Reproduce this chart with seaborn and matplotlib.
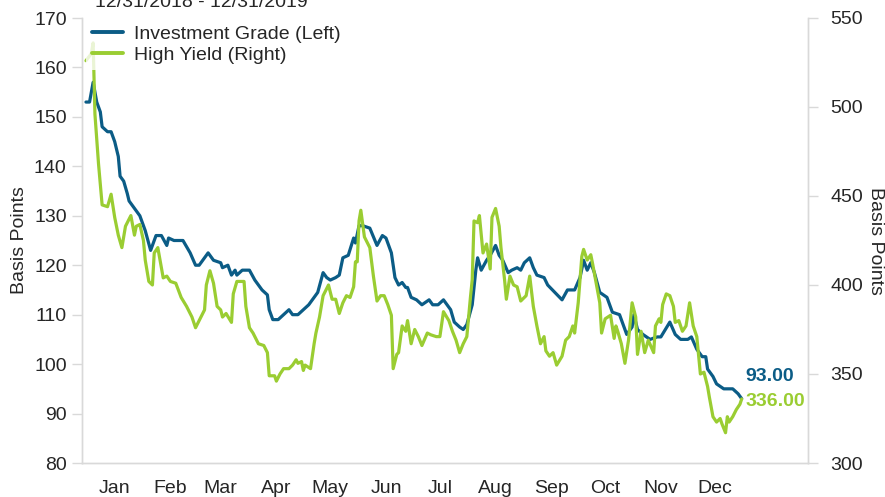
import numpy as np
import pandas as pd
import matplotlib
matplotlib.use("Agg")
import matplotlib.pyplot as plt
import matplotlib.dates as mdates
from matplotlib.lines import Line2D
import seaborn as sns

# ---------------- data ----------------
title = "12/31/2018 - 12/31/2019"
ig_name = "Investment Grade (Left)"
hy_name = "High Yield (Right)"
axis_label = "Basis Points"
month_labels = ["Jan", "Feb", "Mar", "Apr", "May", "Jun",
                "Jul", "Aug", "Sep", "Oct", "Nov", "Dec"]
left_ticks = [80, 90, 100, 110, 120, 130, 140, 150, 160, 170]
right_ticks = [300, 350, 400, 450, 500, 550]

# days since 12/31/2018
ig_days = [0, 2, 4, 6, 8, 9, 12, 14, 16, 18, 19, 21, 23, 24, 27, 30, 33, 36, 37, 39,
           42, 45, 46, 49, 54, 58, 61, 63, 68, 71, 75, 76, 79, 81, 83, 84, 87, 91, 94, 98,
           101, 102, 104, 107, 110, 113, 115, 118, 121, 124, 127, 129, 132, 134, 136, 139,
           141, 143, 146, 149, 150, 152, 154, 158, 162, 165, 167, 170, 172, 174, 176, 178,
           179, 181, 184, 187, 191, 193, 196, 199, 203, 205, 208, 210, 212, 215, 217, 218,
           220, 223, 225, 228, 230, 232, 235, 237, 240, 242, 244, 247, 249, 251, 255, 257,
           261, 265, 268, 272, 275, 277, 279, 281, 283, 286, 290, 293, 297, 301, 304, 305,
           307, 310, 314, 318, 320, 325, 328, 331, 335, 337, 340, 343, 345, 346, 349, 351,
           355, 360, 363, 365]
ig_values = [153, 153, 157, 153, 151, 148, 147, 147, 145, 142, 138, 137, 134.5, 133, 131.5,
             130, 127, 123, 124, 126, 126, 124, 125.5, 125, 125, 122.5, 120, 120, 122.5, 121,
             120.5, 119.5, 120, 118, 119, 118, 119, 119, 117, 115, 114, 111, 109, 109, 110,
             111, 110, 110, 111, 112, 113.5, 114.5, 118.5, 117.5, 117, 117.5, 118, 121.5,
             122, 125.5, 124.5, 128, 128, 127.5, 124, 126, 125.5, 122.5, 117.5, 116, 116.5,
             115.5, 115.5, 113.5, 113, 112, 113, 112, 112, 113, 111, 108.5, 107.5, 107, 108,
             112, 119, 121.5, 119, 121, 122, 124, 122, 121, 118.5, 119, 119.5, 119, 120.5,
             121.5, 119.5, 118, 117.5, 116, 114.5, 113, 115, 115, 117.5, 121, 119, 120.5,
             118.5, 114.5, 113.5, 110.5, 110, 106, 107.5, 110, 107, 106, 105, 105.5, 105.5,
             108.5, 106, 105, 105, 105.5, 103, 101.5, 101.5, 99, 97.5, 96, 95, 95, 94, 93]

hy_days = [0, 3, 4, 5, 7, 9, 12, 14, 16, 18, 20, 22, 25, 27, 28, 30, 32, 33, 35, 37, 38,
           40, 43, 45, 47, 50, 53, 56, 59, 61, 63, 66, 67, 69, 71, 73, 75, 76, 78, 81, 82,
           84, 88, 89, 91, 93, 96, 99, 101, 102, 105, 106, 108, 110, 113, 115, 117, 118,
           120, 121, 122, 125, 127, 128, 130, 132, 134, 135, 137, 139, 141, 143, 145, 147,
           149, 150, 151, 152, 153, 155, 157, 158, 160, 162, 164, 166, 168, 170, 171, 173,
           174, 176, 178, 179, 181, 183, 185, 187, 190, 192, 195, 197, 199, 202, 204, 206,
           208, 210, 212, 214, 215, 216, 218, 219, 221, 223, 225, 226, 228, 230, 231, 233,
           234, 236, 238, 240, 242, 245, 247, 249, 251, 253, 255, 256, 258, 260, 262, 265,
           267, 269, 271, 272, 274, 276, 277, 279, 281, 282, 284, 286, 287, 289, 292, 294,
           295, 296, 298, 300, 302, 304, 306, 307, 309, 311, 313, 316, 317, 319, 320, 321,
           323, 325, 327, 328, 330, 332, 334, 336, 338, 340, 342, 344, 346, 347, 349, 351,
           353, 354, 356, 357, 358, 360, 362, 364, 365]
hy_values = [526, 530, 536, 496, 468, 445, 444, 451, 438, 428, 421, 433, 439, 428, 433,
             434, 425, 414, 402, 400, 418, 421, 404, 405, 402, 401, 393, 388, 382, 376, 380,
             386, 400, 408, 401, 388, 386, 382, 384, 379, 395, 402, 402, 388, 376, 373, 367,
             366, 362, 349, 349, 346, 350, 353, 353, 355, 358, 356, 357, 352, 355, 353, 367,
             373, 382, 394, 398, 400, 392, 392, 384, 390, 394, 393, 399, 413, 413, 436, 442,
             427, 423, 421, 405, 391, 394, 394, 389, 383, 353, 361, 362, 377, 374, 380, 367,
             375, 371, 366, 373, 372, 371, 371, 385, 380, 374, 369, 362, 367, 371, 393, 403,
             436, 435, 439, 418, 423, 409, 438, 443, 433, 421, 403, 392, 405, 400, 399, 391,
             394, 405, 388, 377, 367, 371, 363, 360, 362, 355, 360, 369, 371, 377, 373, 390,
             416, 420, 414, 417, 412, 401, 390, 373, 381, 383, 370, 377, 374, 367, 356, 369,
             390, 382, 361, 374, 362, 369, 362, 377, 381, 379, 389, 395, 394, 388, 379, 380,
             374, 377, 390, 377, 371, 350, 351, 343, 337, 326, 323, 325, 322, 317, 326, 323,
             326, 330, 333, 336]

# ---------------- build frames ----------------
base = pd.Timestamp("2018-12-31")
ig = pd.DataFrame({"date": base + pd.to_timedelta(ig_days, unit="D"), "value": ig_values})
hy = pd.DataFrame({"date": base + pd.to_timedelta(hy_days, unit="D"), "value": hy_values})

BLUE = "#0b5c86"
GREEN = "#9acd32"
GRID = "#d9d9d9"
FS = 14

sns.set_style("white")
plt.rcParams["font.family"] = ["Liberation Sans", "DejaVu Sans"]
plt.rcParams["font.size"] = FS

fig = plt.figure(figsize=(8.85, 4.97), dpi=100)
W, H = 885, 497
ax = fig.add_axes([82 / W, 1 - 463 / H, (808 - 82) / W, (463 - 18) / H])
ax2 = ax.twinx()

sns.lineplot(data=ig, x="date", y="value", ax=ax, color=BLUE, linewidth=2.3, legend=False)
sns.lineplot(data=hy, x="date", y="value", ax=ax2, color=GREEN, linewidth=2.3, legend=False)

ax.set_ylim(left_ticks[0], left_ticks[-1])
ax2.set_ylim(right_ticks[0], right_ticks[-1])
ax.set_yticks(left_ticks)
ax2.set_yticks(right_ticks)

ax.set_xlim(base + pd.Timedelta(days=-2.2), base + pd.Timedelta(days=401.9))
month_starts = pd.date_range("2019-01-01", "2020-01-01", freq="MS")
mid_months = pd.date_range("2019-01-01", "2019-12-01", freq="MS") + pd.Timedelta(days=15)
ax.set_xticks(month_starts)
ax.set_xticklabels([""] * len(month_starts))
ax.set_xticks(mid_months, minor=True)
ax.set_xticklabels(month_labels, minor=True)
ax.tick_params(axis="x", which="minor", length=0, pad=12, labelsize=FS)
ax.tick_params(axis="x", which="major", length=11, width=1, color=GRID)
ax.tick_params(axis="y", length=7, width=1, color=GRID, pad=4, labelsize=FS)
ax2.tick_params(axis="y", length=7, width=1, color=GRID, pad=9, labelsize=FS)

for a in (ax, ax2):
    a.set_xlabel("")
    for s in a.spines.values():
        s.set_color(GRID)
        s.set_linewidth(1)
    a.spines["top"].set_visible(False)
    a.grid(False)

ax.set_ylabel(axis_label, fontsize=FS, labelpad=4)
ax2.set_ylabel(axis_label, fontsize=FS, rotation=270, labelpad=15)

# end labels
ax.annotate(f"{ig_values[-1]:.2f}", xy=(ig["date"].iloc[-1], ig_values[-1]),
            xytext=(4, 22), textcoords="offset pixels", color=BLUE,
            fontsize=FS, fontweight="bold", va="center", ha="left", annotation_clip=False)
ax2.annotate(f"{hy_values[-1]:.2f}", xy=(hy["date"].iloc[-1], hy_values[-1]),
             xytext=(4, -3), textcoords="offset pixels", color=GREEN,
             fontsize=FS, fontweight="bold", va="center", ha="left", annotation_clip=False)

# legend
handles = [Line2D([], [], color=BLUE, lw=2.8), Line2D([], [], color=GREEN, lw=2.8)]
leg = ax2.legend(handles, [ig_name, hy_name], loc="upper left", bbox_to_anchor=(0.006, 0.997),
                 frameon=True, fontsize=FS, handlelength=1.6, handletextpad=0.55,
                 labelspacing=0.2, borderpad=0.3, borderaxespad=0.0)
leg.get_frame().set_facecolor("white")
leg.get_frame().set_alpha(0.8)
leg.get_frame().set_edgecolor("none")

fig.text(95 / W, 1 - 7 / H, title, fontsize=FS, ha="left", va="baseline")

fig.savefig("out.png", dpi=100)
